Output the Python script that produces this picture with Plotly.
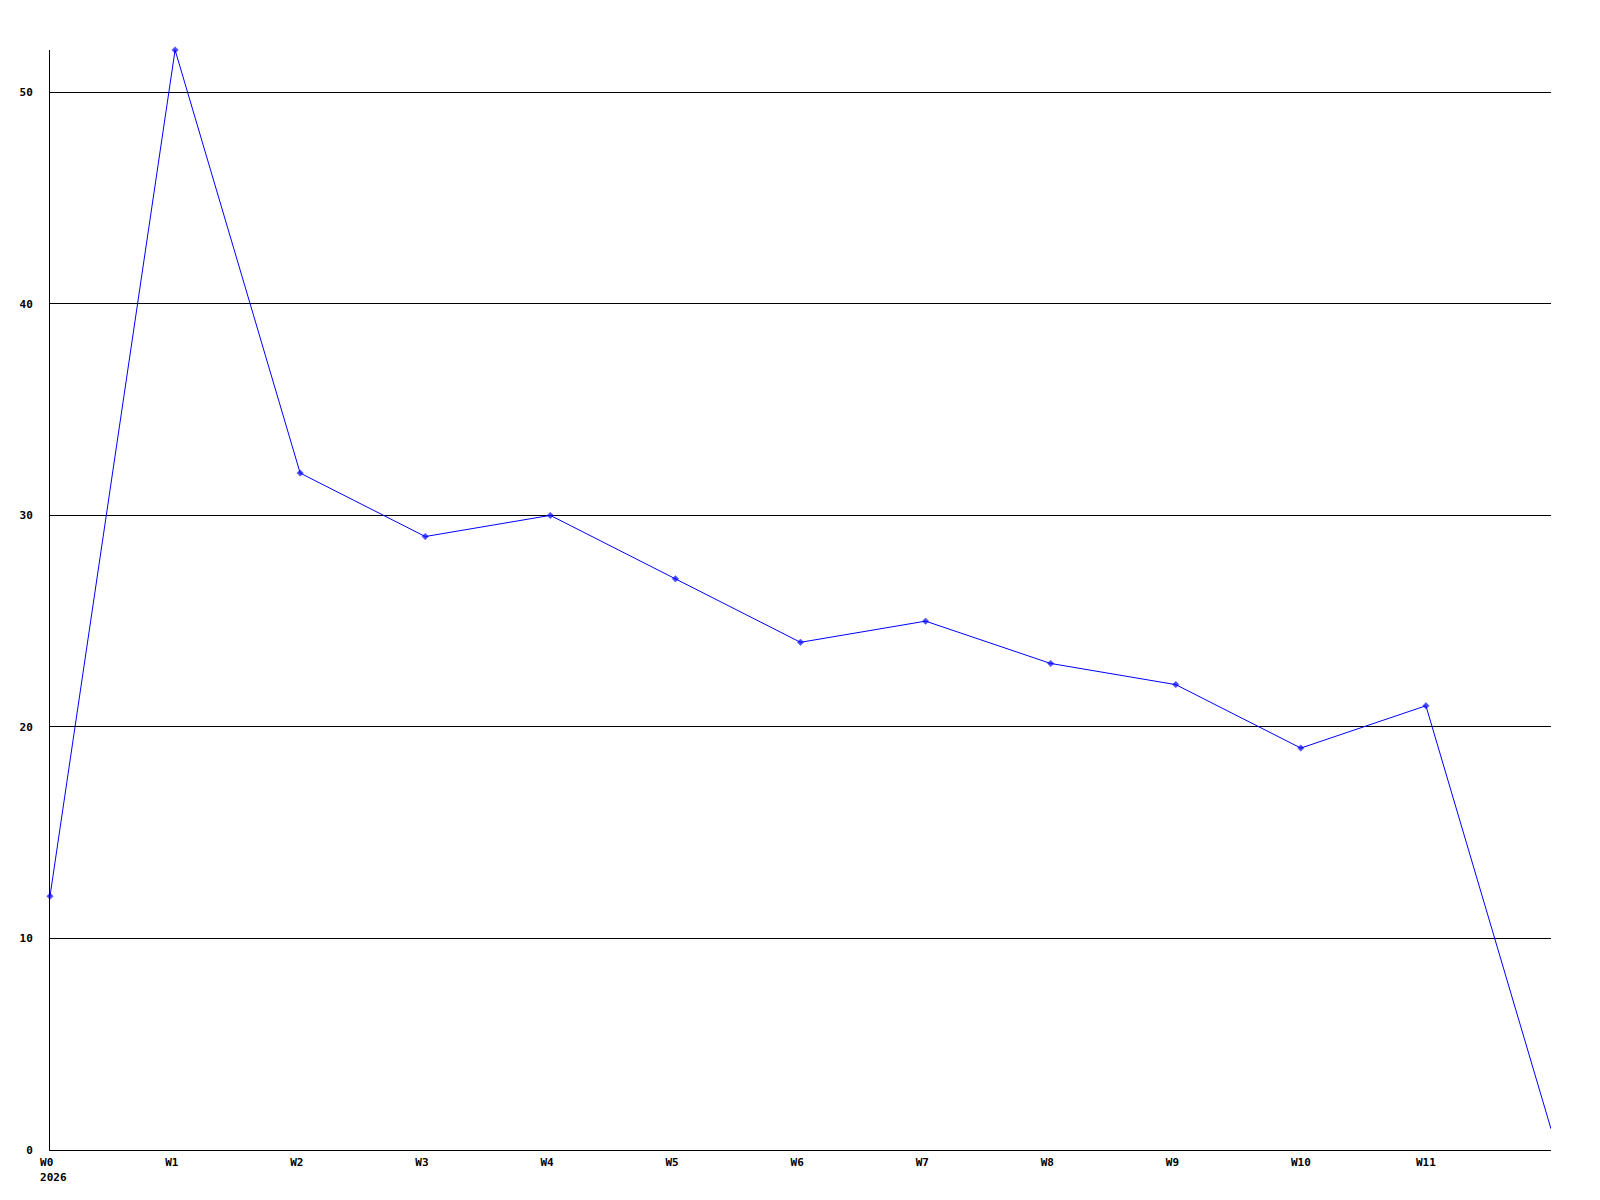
import plotly.graph_objects as go

weeks = ["W0", "W1", "W2", "W3", "W4", "W5", "W6", "W7", "W8", "W9", "W10", "W11", "W12"]
values = [12, 52, 32, 29, 30, 27, 24, 25, 23, 22, 19, 21, 1]
tick_labels = ["W0", "W1", "W2", "W3", "W4", "W5", "W6", "W7", "W8", "W9", "W10", "W11"]
year_label = "2026"
y_ticks = [0, 10, 20, 30, 40, 50]

x_idx = list(range(len(weeks)))
NB = "\u00a0"


def pad(lbl):
    # left-align labels like the reference (monospace font, 3-char cells)
    return lbl + NB * (3 - len(lbl)) if len(lbl) < 3 else lbl


ticktext = [pad(t) for t in tick_labels]
ticktext[0] = ticktext[0] + "<br>" + NB + year_label

# the last (current, partial) week is drawn without a marker
marker_sizes = [5] * (len(values) - 1) + [0]

fig = go.Figure()
fig.add_trace(go.Scatter(
    x=x_idx, y=values, mode="lines+markers",
    line=dict(color="#0000ff", width=1),
    marker=dict(symbol="diamond", size=marker_sizes, color="#0000ff",
                line=dict(color="#0000ff", width=0.5)),
    cliponaxis=False, showlegend=False,
))

font = dict(family="DejaVu Sans Mono", size=11, color="black", weight="bold")

fig.update_layout(
    width=1600, height=1200,
    margin=dict(l=42, r=57, t=42, b=58),
    paper_bgcolor="white", plot_bgcolor="white",
    xaxis=dict(
        range=[0, 12], tickmode="array", tickvals=x_idx[:-1], ticktext=ticktext,
        showgrid=False, zeroline=False, showline=True, linecolor="black", linewidth=1,
        ticks="outside", ticklen=2, tickcolor="rgba(0,0,0,0)", tickfont=font,
    ),
    yaxis=dict(
        range=[0, 52], tickmode="array", tickvals=y_ticks,
        showgrid=True, gridcolor="black", gridwidth=1, zeroline=False,
        showline=True, linecolor="black", linewidth=1,
        ticks="outside", ticklen=14, tickcolor="rgba(0,0,0,0)", tickfont=font,
    ),
)

fig.write_html("out.html")
